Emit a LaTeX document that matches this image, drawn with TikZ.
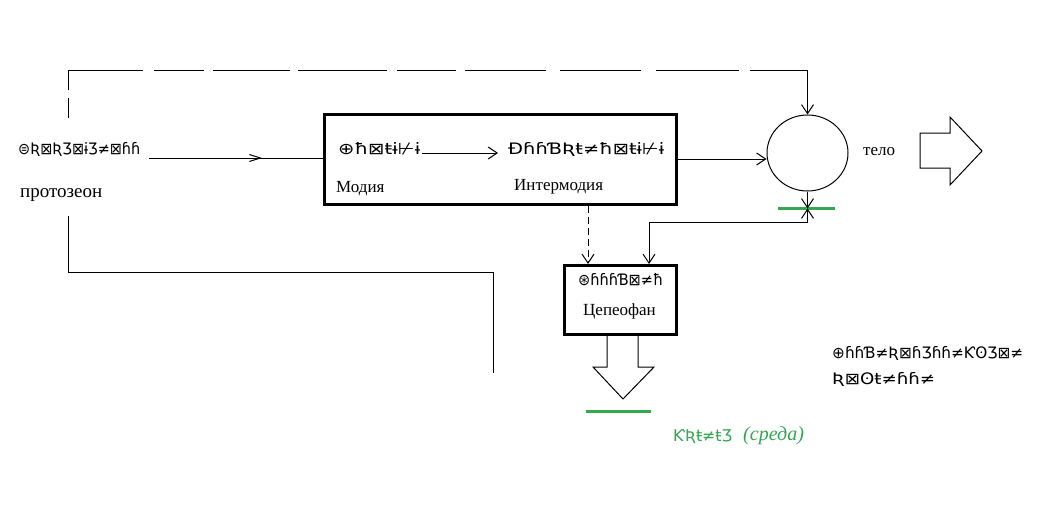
\documentclass[tikz,border=0pt]{standalone}
\usepackage{fontspec}
\setmainfont{Liberation Serif}
\newfontfamily\glyphfont{DejaVu Sans}
\usetikzlibrary{arrows.meta,shapes.geometric,decorations.markings,calc}

\definecolor{envgreen}{RGB}{50,168,80}

% a row of script glyphs squeezed to a given width
\newcommand\glyphrow[2]{\resizebox{#1pt}{12pt}{\glyphfont #2}}

\tikzset{
  openbarb/.tip={Straight Barb[length=9pt,width=12pt]},
  smallbarb/.tip={Straight Barb[length=11pt,width=7pt]},
  thin line/.style={line width=1pt},
  framebox/.style={draw, line width=3pt, inner sep=0pt},
  label/.style={font=\fontsize{17}{19}\selectfont, inner sep=0pt, anchor=base west},
  glyphs/.style={inner sep=0pt, anchor=base west},
  groundline/.style={draw=envgreen, line width=3pt},
  hollow arrow/.style={draw, line width=1pt, fill=white, line join=miter},
}

\begin{document}
\begin{tikzpicture}[x=1pt,y=-1pt]
\useasboundingbox[fill=white] (0,0) rectangle (1038,511);

% ---- source on the left
\node[glyphs] (srcg) at (18,154) {\glyphrow{122}{⊜Ʀ⊠ƦƷ⊠ɨƷ≠⊠ɦɦ}};
\node[label, font=\fontsize{19}{21}\selectfont] (src) at (20,197) {протозеон};

% ---- main block
\node[framebox, minimum width=352, minimum height=90] (M) at (500,159) {};
\node[glyphs] (modg) at (338,154) {\glyphrow{82}{⊕ħ⊠ŧɨ⊬ɨ}};
\node[label] (mod) at (336,192) {Модия};
\node[glyphs] (intg) at (508,154) {\glyphrow{156}{ƉɦɦƁƦŧ≠ħ⊠ŧɨ⊬ɨ}};
\node[label] (int) at (514,190) {Интермодия};

% ---- body (circle)
\node[draw, thin line, ellipse, minimum width=81, minimum height=76, inner sep=0pt] (body) at (807.5,153) {};
\node[label] (tel) at (863,155) {тело};

% ---- lower block
\node[framebox, minimum width=112, minimum height=69] (T) at (620,300) {};
\node[glyphs] (tsg) at (578,285) {\glyphrow{85}{⊛ɦɦɦƁ⊠≠ħ}};
\node[label] (ts) at (583,315) {Цепеофан};

% ---- notes
\node[glyphs] (note1) at (832,358) {\glyphrow{191}{⊕ɦɦƁ≠Ʀ⊠ɦƷɦɦ≠ƘʘƷ⊠≠}};
\node[glyphs] (note2) at (832,384) {\glyphrow{103}{Ʀ⊠ʘŧ≠ɦɦ≠}};
\node[glyphs, text=envgreen] (envg) at (673,441) {\glyphrow{59}{ƘƦŧ≠ŧƷ}};
\node[inner sep=0pt, anchor=base west, text=envgreen, font=\fontsize{20}{22}\selectfont\itshape] (env) at (743,440) {(среда)};

% ---- free ends
\coordinate (fbstart) at (68,118);
\coordinate (loopstart) at (68,216);
\coordinate (loopend) at (493,373);
\coordinate (inlet) at (149,158);

% ---- connectors
% long-dashed feedback from the source to the body
\draw[thin line, dash pattern=on 20pt off 8pt on 95pt off 11pt on 50pt off 9pt on 77pt off 8pt on 89pt off 10pt on 59pt off 9pt on 81pt off 14pt on 81pt off 15pt on 83pt off 11pt on 140pt, -{openbarb}]
  (fbstart) -- (68,70) -- (body.north |- 0,70) -- (body.north);

% input into the main block
\draw[thin line, postaction={decorate},
  decoration={markings, mark=at position 113pt with {\arrow{smallbarb}}}]
  (inlet) -- (M.west |- inlet);

% inside the main block
\draw[thin line, -{openbarb}] ($(modg.east |- 0,153)+(2,0)$) -- ($(intg.west |- 0,153)+(-10,0)$);
\draw[thin line, -{openbarb}] (M.east |- 0,159) -- (body.west |- 0,159);

% body down to the lower block, crossing the ground line
\draw[groundline] (778,208) -- (835,208);
\draw[thin line, -{openbarb}, postaction={decorate},
  decoration={markings,
    mark=at position 17pt with {\arrow{Straight Barb[length=9pt,width=12pt]}},
    mark=at position 17pt with {\arrowreversed{Straight Barb[length=9pt,width=12pt]}}}]
  (body.south) -- (807.5,222) -- (649,222) -- (T.north -| 649,0);

% dashed link from the main block to the lower block
\draw[thin line, dash pattern=on 7pt off 4pt, -{openbarb}] (M.south -| 588,0) -- (T.north -| 588,0);

% open loop in the lower left
\draw[thin line] (loopstart) -- (68,272) -- (loopend |- 0,272) -- (loopend);

% hollow output arrows
\draw[hollow arrow] (920,133) -- (950,133) -- (950,117) -- (982,151) -- (950,185) -- (950,168) -- (920,168) -- cycle;
\draw[hollow arrow] (T.south -| 607,0) -- (607,367) -- (593,367) -- (623,399) -- (654,367) -- (638,367) -- (T.south -| 638,0);
\draw[groundline] (586,411) -- (651,411);

\end{tikzpicture}
\end{document}
